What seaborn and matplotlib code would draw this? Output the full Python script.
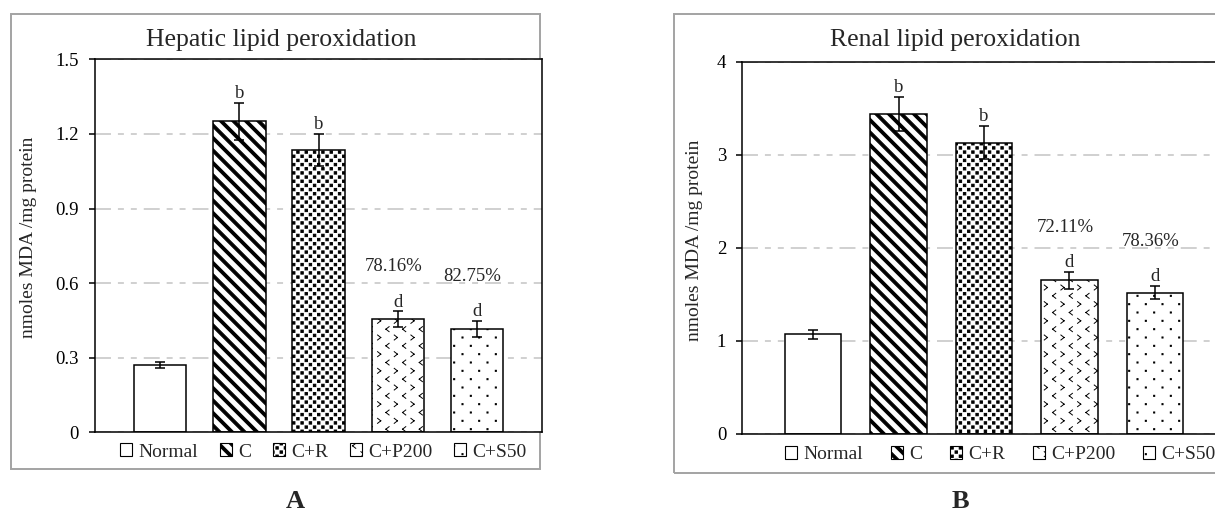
import warnings
import numpy as np
import pandas as pd
import matplotlib
matplotlib.use("Agg")
import matplotlib.pyplot as plt
import matplotlib.hatch as mhatch
from matplotlib.path import Path
from matplotlib.patches import Patch, Rectangle
import seaborn as sns

warnings.filterwarnings("ignore")

# ---------------- data ----------------
categories = ["Normal", "C", "C+R", "C+P200", "C+S50"]

hepatic_mean = [0.27, 1.25, 1.135, 0.455, 0.415]
hepatic_err = [0.012, 0.074, 0.064, 0.031, 0.032]
hepatic_ticks = [0, 0.3, 0.6, 0.9, 1.2, 1.5]
hepatic_ticklabels = ["0", "0.3", "0.6", "0.9", "1.2", "1.5"]
hepatic_pct = ["", "", "", "78.16%", "82.75%"]

renal_mean = [1.07, 3.44, 3.13, 1.65, 1.52]
renal_err = [0.045, 0.18, 0.18, 0.09, 0.07]
renal_ticks = [0, 1, 2, 3, 4]
renal_ticklabels = ["0", "1", "2", "3", "4"]
renal_pct = ["", "", "", "72.11%", "78.36%"]

sig_letters = ["", "b", "b", "d", "d"]

hepatic_title = "Hepatic lipid peroxidation"
renal_title = "Renal lipid peroxidation"
y_label = "nmoles MDA /mg protein"
panel_labels = ["A", "B"]

# ---------------- custom hatch patterns (Excel-like fills) ----------------
MOVETO, LINETO, CLOSE = Path.MOVETO, Path.LINETO, Path.CLOSEPOLY


def _stripes(k=8, w=0.040):
    verts, codes = [], []
    x0, x1 = -0.2, 1.2
    for j in range(-3, 2 * k + 4):
        c = j / k
        verts += [(x0, c - w / 2 - x0), (x1, c - w / 2 - x1),
                  (x1, c + w / 2 - x1), (x0, c + w / 2 - x0), (x0, c - w / 2 - x0)]
        codes += [MOVETO, LINETO, LINETO, LINETO, CLOSE]
    return verts, codes


def _squares(ncols, nrows, side):
    verts, codes = [], []
    h = side / 2
    for r in range(nrows):
        y = (r + 0.5) / nrows
        shift = 0.5 if r % 2 else 0.0
        for c in range(ncols):
            x = (c + 0.25 + shift) / ncols
            verts += [(x - h, y - h), (x + h, y - h), (x + h, y + h), (x - h, y + h), (x - h, y - h)]
            codes += [MOVETO, LINETO, LINETO, LINETO, CLOSE]
    return verts, codes


def _chevrons(ncols=6, nrows=12, w=0.032, hgt=0.05):
    verts, codes = [], []
    for r in range(nrows):
        y = (r + 0.5) / nrows
        shift = 0.5 if r % 2 else 0.0
        left = (r % 2 == 0)
        for c in range(ncols):
            x = (c + 0.25 + shift) / ncols
            if left:
                tip = (x - w / 2, y)
                a, b = (x + w / 2, y + hgt / 2), (x + w / 2, y - hgt / 2)
            else:
                tip = (x + w / 2, y)
                a, b = (x - w / 2, y + hgt / 2), (x - w / 2, y - hgt / 2)
            verts += [a, tip, tip, b]
            codes += [MOVETO, LINETO, MOVETO, LINETO]
    return verts, codes


class _CustomHatch(mhatch.HatchPatternBase):
    char = ""

    def __init__(self, hatch, density):
        n = hatch.count(self.char) if (self.char and hatch) else 0
        if n:
            v, c = self.build()
            self._v = np.asarray(v, float)
            self._c = np.asarray(c, dtype=Path.code_type)
            self.num_vertices = len(self._v)
        else:
            self.num_vertices = 0

    def set_vertices_and_codes(self, vertices, codes):
        vertices[:] = self._v
        codes[:] = self._c


class StripeHatch(_CustomHatch):
    char = "\\"

    def build(self):
        return _stripes()


class DenseSquareHatch(_CustomHatch):
    char = "O"

    def build(self):
        return _squares(12, 24, 0.024)


class ChevronHatch(_CustomHatch):
    char = "x"

    def build(self):
        return _chevrons()


class SparseDotHatch(_CustomHatch):
    char = "."

    def build(self):
        return _squares(6, 12, 0.011)


mhatch._hatch_types[:] = [StripeHatch, DenseSquareHatch, ChevronHatch, SparseDotHatch]

bar_hatches = ["", "\\", "O", "x", "."]

# ---------------- style ----------------
sns.set_theme(style="white")
plt.rcParams["font.family"] = ["Liberation Serif", "DejaVu Serif"]
plt.rcParams["hatch.linewidth"] = 0.7
plt.rcParams["lines.scale_dashes"] = False

W, H = 1215, 513
fig = plt.figure(figsize=(W / 100, H / 100), dpi=100)
fig.patch.set_facecolor("white")


def px_rect(x0, y0, x1, y1):
    return [x0 / W, 1 - y1 / H, (x1 - x0) / W, (y1 - y0) / H]


# outer frames of the two panels
for (x0, y0, x1, y1) in [(10.7, 14, 540, 469), (674, 14, 1240, 473)]:
    fig.add_artist(Rectangle((x0 / 100, (H - y1) / 100), (x1 - x0) / 100, (y1 - y0) / 100,
                             transform=fig.dpi_scale_trans, fill=False,
                             edgecolor="#a3a3a3", linewidth=1.4, zorder=0))

FS = 13.5
LEG_FS = 14


def draw_panel(ax, means, errs, ticks, ticklabels, pct, title, title_xy, ylab_xy,
               leg_anchor, colspacing):
    df = pd.DataFrame({"group": categories, "value": means})
    sns.barplot(data=df, x="group", y="value", order=categories, ax=ax, width=0.66,
                color="white", edgecolor="black", linewidth=1.1, errorbar=None,
                saturation=1)
    for patch, h in zip(ax.patches, bar_hatches):
        patch.set_hatch(h)
        patch.set_edgecolor("black")
    xs = np.arange(len(categories))
    ax.errorbar(xs, means, yerr=errs, fmt="none", ecolor="black", elinewidth=1.1,
                capsize=3.5, capthick=1.1, zorder=3)
    for i in range(len(categories)):
        top = means[i] + errs[i]
        if sig_letters[i]:
            ax.annotate(sig_letters[i], (xs[i], top), xytext=(0, 3.5),
                        textcoords="offset points", ha="center", va="baseline",
                        fontsize=FS)
        if pct[i]:
            ax.annotate(pct[i], (xs[i], top), xytext=(-3, 29),
                        textcoords="offset points", ha="center", va="baseline",
                        fontsize=FS)
    ax.set_xlim(-0.83, 4.82)
    ax.set_ylim(ticks[0], ticks[-1])
    ax.set_yticks(ticks)
    ax.set_yticklabels(ticklabels)
    ax.set_xticks([])
    ax.set_xlabel("")
    ax.set_ylabel("")
    ax.tick_params(axis="y", direction="out", length=4.5, width=1.1, pad=7,
                   labelsize=FS, color="black", left=True, labelcolor="black")
    for s in ax.spines.values():
        s.set_visible(True)
        s.set_color("black")
        s.set_linewidth(1.1)
    ax.yaxis.grid(True, color="#c4c4c4", linewidth=1.1,
                  linestyle=(0, (11.5, 5, 4.3, 5, 4.3, 5)))
    ax.xaxis.grid(False)
    ax.set_axisbelow(True)
    ax.set_facecolor("white")

    fig.text(title_xy[0] / W, 1 - title_xy[1] / H, title, ha="center", va="center",
             fontsize=18.5)
    fig.text(ylab_xy[0] / W, 1 - ylab_xy[1] / H, y_label, rotation=90, ha="center",
             va="center", fontsize=14)

    handles = [Patch(facecolor="white", edgecolor="black", hatch=h, linewidth=0.8, label=c)
               for c, h in zip(categories, bar_hatches)]
    ax.legend(handles=handles, loc="center left", bbox_to_anchor=leg_anchor, ncol=5,
              frameon=False, fontsize=LEG_FS, handlelength=0.62, handleheight=0.62,
              handletextpad=0.31, columnspacing=colspacing, borderpad=0, borderaxespad=0)


axA = fig.add_axes(px_rect(94.7, 59.3, 541.7, 432.3))
draw_panel(axA, hepatic_mean, hepatic_err, hepatic_ticks, hepatic_ticklabels, hepatic_pct,
           hepatic_title, (281.5, 40), (28.5, 237.7), (0.0566, -0.053), 1.13)

axB = fig.add_axes(px_rect(742.1, 61.7, 1225.0, 434.0))
draw_panel(axB, renal_mean, renal_err, renal_ticks, renal_ticklabels, renal_pct,
           renal_title, (955, 40), (695, 240.7), (0.089, -0.056), 1.44)

fig.text(295 / W, 0.5 / H, panel_labels[0], ha="center", va="bottom", fontsize=19,
         fontweight="bold")
fig.text(960 / W, 0.5 / H, panel_labels[1], ha="center", va="bottom", fontsize=19,
         fontweight="bold")

fig.savefig("out.png", dpi=100, facecolor="white")
